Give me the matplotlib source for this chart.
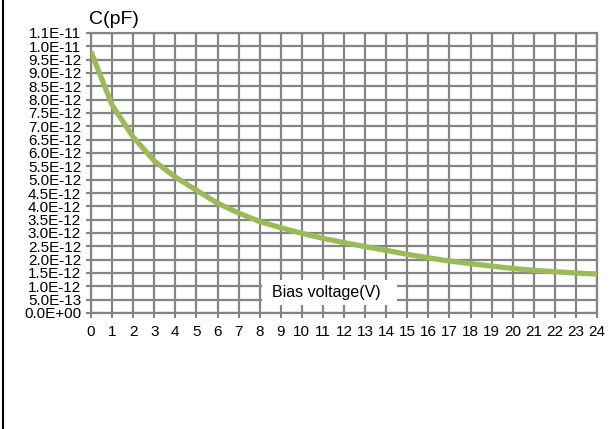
# capacitance vs bias voltage chart
import matplotlib
matplotlib.use("Agg")
import matplotlib.pyplot as plt
from matplotlib.lines import Line2D
from matplotlib.patches import Rectangle

plt.rcParams['font.family'] = ['Liberation Sans', 'DejaVu Sans']

# bias voltage (V) and capacitance (F)
voltage = [0, 1, 2, 3, 4, 5, 6, 7, 8, 9, 10, 11, 12,
           13, 14, 15, 16, 17, 18, 19, 20, 21, 22, 23, 24]
cap_pf = [9.8, 7.8, 6.6, 5.7, 5.1, 4.6, 4.12, 3.75, 3.43, 3.2, 2.99, 2.8, 2.64,
          2.49, 2.35, 2.2, 2.07, 1.95, 1.85, 1.76, 1.67, 1.6, 1.55, 1.5, 1.46]
capacitance = [c * 1e-12 for c in cap_pf]

y_ticks = [i * 0.5e-12 for i in range(22)]
y_labels = ['0.0E+00', '5.0E-13', '1.0E-12', '1.5E-12', '2.0E-12', '2.5E-12',
            '3.0E-12', '3.5E-12', '4.0E-12', '4.5E-12', '5.0E-12', '5.5E-12',
            '6.0E-12', '6.5E-12', '7.0E-12', '7.5E-12', '8.0E-12', '8.5E-12',
            '9.0E-12', '9.5E-12', '1.0E-11', '1.1E-11']
x_ticks = list(range(25))

grid_col = '#858585'

fig = plt.figure(figsize=(6.1, 4.29), dpi=100)
ax = fig.add_axes([91/610, 1-313/429, 506/610, 280/429])

ax.plot(voltage, capacitance, color='#9BBB59', linewidth=3.8, solid_capstyle='butt', zorder=3)

ax.set_xlim(0, 24)
ax.set_ylim(0, 1.05e-11)
ax.set_xticks(x_ticks)
ax.set_xticklabels([str(v) for v in x_ticks])
ax.set_yticks(y_ticks)
ax.set_yticklabels(y_labels)
ax.tick_params(axis='both', labelsize=11, colors=grid_col, labelcolor='black',
               length=3.6, width=1.5)
ax.tick_params(axis='y', pad=3.5)
ax.tick_params(axis='x', pad=5)
ax.grid(True, color=grid_col, linewidth=1.6)
ax.set_axisbelow(True)
for s in ax.spines.values():
    s.set_color(grid_col)
    s.set_linewidth(1.6)

fig.text(89/610, 1-20/429, 'C(pF)', fontsize=14, ha='left', va='center')

# white box behind the x axis title
ax.add_patch(Rectangle((0.338, 0.0286), 0.267, 0.089, transform=ax.transAxes,
                       facecolor='white', edgecolor='none', zorder=4))
ax.text(0.4644, 0.073, 'Bias voltage(V)', transform=ax.transAxes, fontsize=11.5,
        ha='center', va='center', zorder=5)

# black border line on the left edge
fig.add_artist(Line2D([3/610, 3/610], [0, 1], color='black', linewidth=1.5))

fig.savefig('out.png', dpi=100)
